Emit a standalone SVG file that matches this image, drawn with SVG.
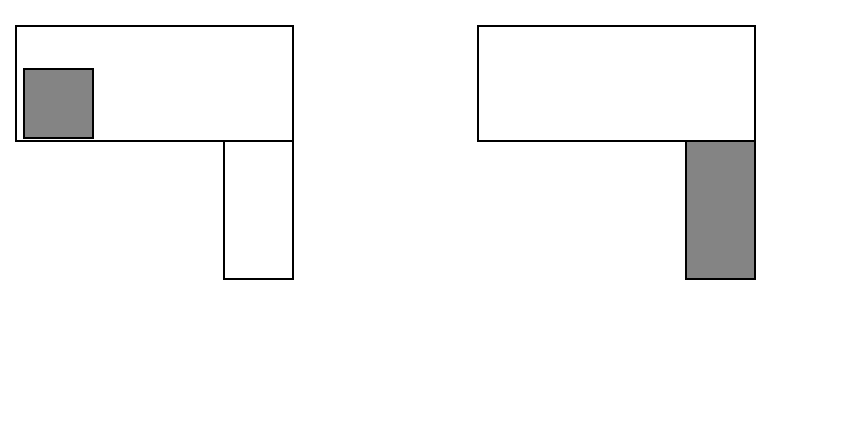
<svg xmlns="http://www.w3.org/2000/svg" width="851" height="439" viewBox="0 0 851 439">
<style>
.box{fill:#ffffff;stroke:#000000;stroke-width:2}
.filled{fill:#848484;stroke:#000000;stroke-width:2}
</style>
<rect width="851" height="439" fill="#ffffff"/>
<g id="left-top"><rect class="box" x="16" y="26" width="277" height="115"/></g>
<g id="left-square"><rect class="filled" x="24" y="69" width="69" height="69"/></g>
<g id="left-bottom"><rect class="box" x="224" y="141" width="69" height="138"/></g>
<g id="right-top"><rect class="box" x="478" y="26" width="277" height="115"/></g>
<g id="right-bottom"><rect class="filled" x="686" y="141" width="69" height="138"/></g>
<g id="connectors"></g>
</svg>
